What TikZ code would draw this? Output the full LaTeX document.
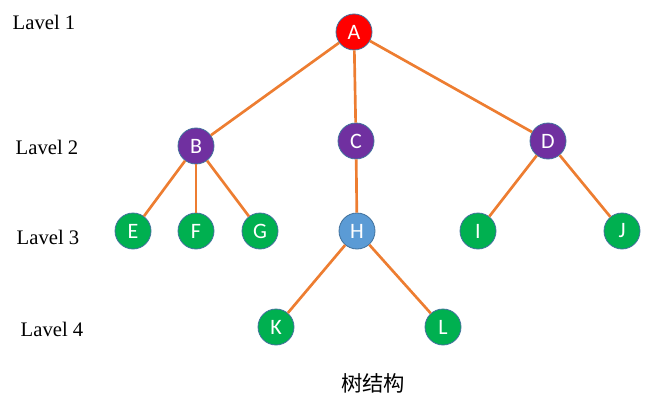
\documentclass[tikz,border=0pt]{standalone}
\usepackage{fontspec}
\setmainfont{Liberation Serif}
\newfontfamily\nodefont{Carlito}
\newfontfamily\cjk{Noto Sans CJK SC}
\usepackage{xcolor}
\usepackage{tikz}
\definecolor{trRed}{HTML}{FF0000}
\definecolor{trPurple}{HTML}{7030A0}
\definecolor{trGreen}{HTML}{00B050}
\definecolor{trBlue}{HTML}{5B9BD5}
\definecolor{trEdge}{HTML}{ED7D31}
\definecolor{trRim}{HTML}{41719C}
\tikzset{
  tnode/.style={circle,draw=trRim,line width=0.6pt,minimum size=27pt,inner sep=0pt,text=white,font=\nodefont\fontsize{16.5}{16.5}\selectfont},
  lvl/.style={font=\fontsize{15.5}{16}\selectfont,anchor=west},
  tedge/.style={trEdge,line width=2pt}
}
\begin{document}
\begin{tikzpicture}[x=0.75pt,y=-0.75pt]
\useasboundingbox (0,0) rectangle (659,406);
% levels
\node[lvl] (l1) at (8,22) {Lavel 1};
\node[lvl] (l2) at (11,147) {Lavel 2};
\node[lvl] (l3) at (12,237) {Lavel 3};
\node[lvl] (l4) at (16,329) {Lavel 4};
% tree
\node[tnode,fill=trRed] (A) at (354,32) {A};
\node[tnode,fill=trPurple] (B) at (196,146) {B};
\node[tnode,fill=trPurple] (C) at (356,141) {C};
\node[tnode,fill=trPurple] (D) at (548,141) {D};
\node[tnode,fill=trGreen] (E) at (133,231) {E};
\node[tnode,fill=trGreen] (F) at (196,231) {F};
\node[tnode,fill=trGreen] (G) at (260,231) {G};
\node[tnode,fill=trBlue] (H) at (357,231) {H};
\node[tnode,fill=trGreen] (I) at (478,231) {I};
\node[tnode,fill=trGreen] (J) at (622,231) {J};
\node[tnode,fill=trGreen] (K) at (276,327) {K};
\node[tnode,fill=trGreen] (L) at (443,327) {L};
\foreach \p/\c in {A/B,A/C,A/D,B/E,B/F,B/G,C/H,D/I,D/J,H/K,H/L}
  \draw[tedge] (\p) -- (\c);
\node[font=\cjk\fontsize{16}{16}\selectfont] (cap) at (373,383) {树结构};
\end{tikzpicture}
\end{document}
